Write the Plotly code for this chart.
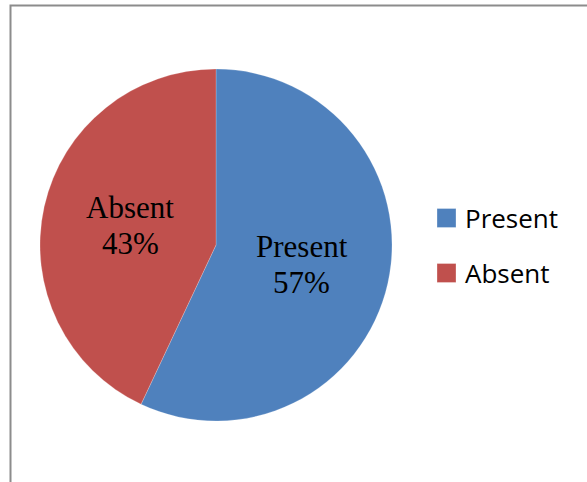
import math
import plotly.graph_objects as go

labels = ["Present", "Absent"]
values = [57, 43]
colors = ["#4F81BD", "#C0504D"]

W, H = 587, 482
# pie placement in pixels
CX, CY, R = 216, 245, 176

fig = go.Figure(go.Pie(
    labels=labels, values=values, sort=False, direction="clockwise", rotation=0,
    marker=dict(colors=colors, line=dict(color="rgba(255,255,255,0.35)", width=0.6)),
    textinfo="none", hoverinfo="label+percent",
    domain=dict(x=[(CX - R) / W, (CX + R) / W], y=[1 - (CY + R) / H, 1 - (CY - R) / H]),
    showlegend=False,
))

annotations = []
shapes = []
total = sum(values)
start = 0.0
for lab, val in zip(labels, values):
    frac = val / total
    mid = (start + frac / 2) * 2 * math.pi  # clockwise from top
    start += frac
    px = CX + 0.5 * R * math.sin(mid)
    py = CY - 0.5 * R * math.cos(mid)
    pct = f"{round(frac * 100)}%"
    for text, off in ((lab, -18), (pct, 18)):
        annotations.append(dict(
            x=px / W, y=1 - (py + off) / H, xref="paper", yref="paper",
            text=text, showarrow=False, xanchor="center", yanchor="middle",
            font=dict(family="Liberation Serif", size=31, color="black")))

# manual legend
LX, LY0, LDY, SQ = 437, 218, 55, 19
for i, (lab, col) in enumerate(zip(labels, colors)):
    y = LY0 + i * LDY
    shapes.append(dict(type="rect", xref="paper", yref="paper",
                       x0=LX / W, x1=(LX + SQ) / W,
                       y0=1 - (y + SQ / 2) / H, y1=1 - (y - SQ / 2) / H,
                       fillcolor=col, line=dict(color="rgba(255,255,255,0.6)", width=0.5)))
    annotations.append(dict(x=(LX + SQ + 7) / W, y=1 - y / H, xref="paper", yref="paper",
                            text=lab, showarrow=False, xanchor="left", yanchor="middle",
                            font=dict(family="Open Sans", size=26, color="black")))

shapes.append(dict(type="rect", xref="paper", yref="paper",
                   x0=10.5 / W, x1=1.05, y0=-0.05, y1=1 - 5.5 / H,
                   line=dict(color="#8c8c8c", width=2)))

fig.update_layout(
    width=W, height=H, margin=dict(l=0, r=0, t=0, b=0),
    paper_bgcolor="white",
    shapes=shapes, annotations=annotations,
)
fig.write_html("out.html")
